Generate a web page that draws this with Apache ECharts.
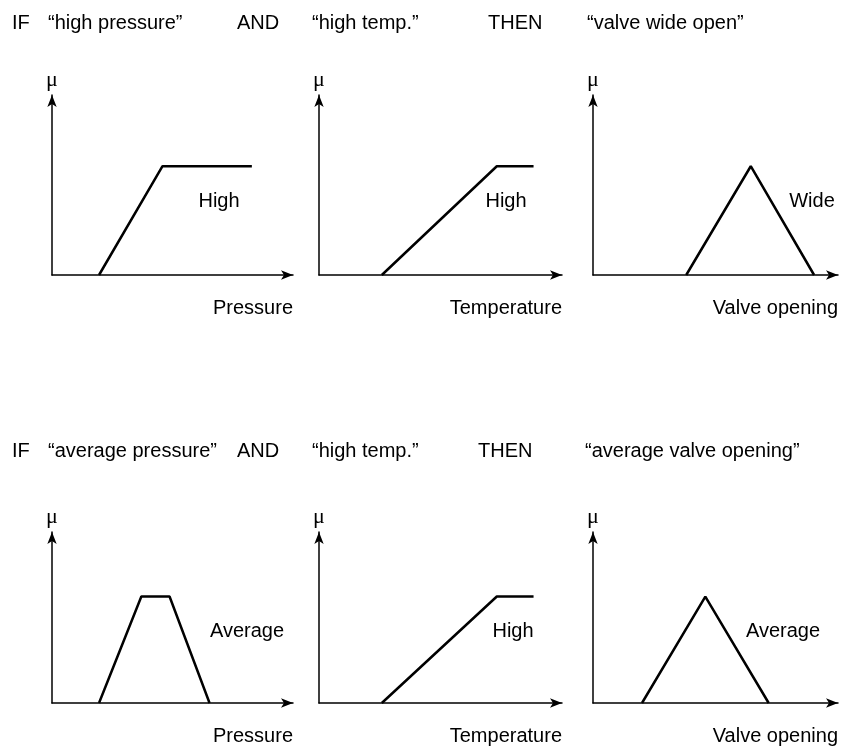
<!DOCTYPE html>
<html><head><meta charset="utf-8">
<script src="https://cdn.jsdelivr.net/npm/echarts@6/dist/echarts.min.js"></script>
<style>html,body{margin:0;padding:0;background:#fff}#c{width:842px;height:747px}</style>
</head><body><div id="c"></div>
<script>
// Rule headers (one row of words per rule)
const headerRow1 = ['IF', '\u201Chigh pressure\u201D', 'AND', '\u201Chigh temp.\u201D', 'THEN', '\u201Cvalve wide open\u201D'];
const headerRow2 = ['IF', '\u201Caverage pressure\u201D', 'AND', '\u201Chigh temp.\u201D', 'THEN', '\u201Caverage valve opening\u201D'];
// Axis titles per panel
const axisTitles = ['Pressure', 'Temperature', 'Valve opening', 'Pressure', 'Temperature', 'Valve opening'];
// Fuzzy set names per panel
const setNames = ['High', 'High', 'Wide', 'Average', 'High', 'Average'];
// Membership function break points (x on a 0-10 universe, mu from 0 to 1)
const highPressureX = [2.0, 4.7, 8.5];
const highPressureMu = [0, 1, 1];
const highTempX = [2.65, 7.5, 9.05];
const highTempMu = [0, 1, 1];
const wideValveX = [3.9, 6.6, 9.25];
const wideValveMu = [0, 1, 0];
const avgPressureX = [2.0, 3.8, 5.0, 6.7];
const avgPressureMu = [0, 1, 1, 0];
const avgValveX = [2.05, 4.7, 7.35];
const avgValveMu = [0, 1, 0];

const panelsX = [highPressureX, highTempX, wideValveX, avgPressureX, highTempX, avgValveX];
const panelsMu = [highPressureMu, highTempMu, wideValveMu, avgPressureMu, highTempMu, avgValveMu];

const SANS = "'Liberation Sans', Arial, Helvetica, sans-serif";
const SERIF = "'Liberation Serif', 'Times New Roman', serif";

// layout (pixels); axis extents run up to the arrow tips
const colLeft = [52, 319, 593];
const colWidth = [241, 243, 245];
const rowTop = [95, 532];
const rowHeight = [180, 171];
const colXMax = [10.25, 10.25, 10.25];
const rowYMax = [1.655, 1.606];
const headerX = [[12, 48, 237, 312, 488, 587], [12, 48, 237, 312, 478, 585]];
const headerY = [23, 451];
const setLabelPos = [[219, 201], [506, 201], [812, 201], [247, 631], [513, 631], [783, 631]];

const grids = [], xAxes = [], yAxes = [], series = [], graphics = [];
for (let i = 0; i < 6; i++) {
  const r = Math.floor(i / 3), c = i % 3;
  grids.push({left: colLeft[c], top: rowTop[r], width: colWidth[c], height: rowHeight[r], containLabel: false});
  const axisLine = {show: true, symbol: ['none', 'arrow'], symbolSize: [7, 12], lineStyle: {color: '#000', width: 1.5}};
  xAxes.push({
    type: 'value', gridIndex: i, min: 0, max: colXMax[c],
    axisLine: axisLine, axisTick: {show: false}, axisLabel: {show: false}, splitLine: {show: false},
    name: axisTitles[i], nameLocation: 'end', nameGap: 0,
    nameTextStyle: {fontFamily: SANS, fontSize: 20, color: '#000', align: 'right', verticalAlign: 'top', padding: [23, 0, 0, 0]}
  });
  yAxes.push({
    type: 'value', gridIndex: i, min: 0, max: rowYMax[r],
    axisLine: axisLine, axisTick: {show: false}, axisLabel: {show: false}, splitLine: {show: false},
    name: '\u03BC', nameLocation: 'end', nameGap: 4,
    nameTextStyle: {fontFamily: SERIF, fontSize: 22, color: '#000', align: 'center', verticalAlign: 'bottom'}
  });
  series.push({
    type: 'line', xAxisIndex: i, yAxisIndex: i, symbol: 'none', silent: true,
    lineStyle: {color: '#000', width: 2.5}, animation: false,
    data: panelsX[i].map((x, k) => [x, panelsMu[i][k]])
  });
  graphics.push({type: 'text', x: setLabelPos[i][0], y: setLabelPos[i][1],
    style: {text: setNames[i], font: '20px ' + SANS, fill: '#000', textAlign: 'center', textVerticalAlign: 'middle'}});
}
[headerRow1, headerRow2].forEach((row, r) => {
  row.forEach((w, k) => {
    graphics.push({type: 'text', x: headerX[r][k], y: headerY[r],
      style: {text: w, font: '20px ' + SANS, fill: '#000', textAlign: 'left', textVerticalAlign: 'middle'}});
  });
});

const chart = echarts.init(document.getElementById('c'), null, {renderer: 'canvas'});
chart.setOption({
  animation: false,
  backgroundColor: '#fff',
  grid: grids, xAxis: xAxes, yAxis: yAxes, series: series, graphic: graphics
});
</script></body></html>
